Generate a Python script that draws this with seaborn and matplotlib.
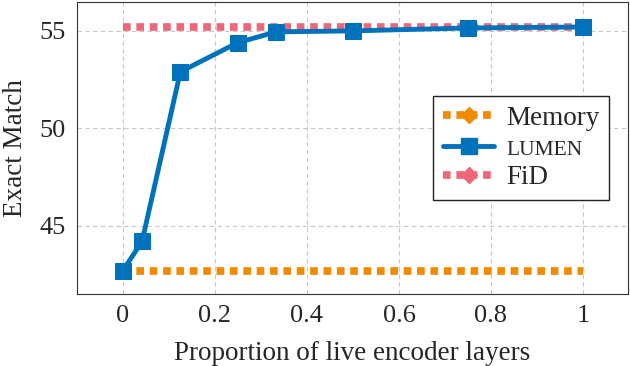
import numpy as np
import pandas as pd
import matplotlib
matplotlib.use("Agg")
import matplotlib.pyplot as plt
from matplotlib.lines import Line2D
import seaborn as sns

# data
proportion = [0, 1/24, 1/8, 1/4, 1/3, 1/2, 3/4, 1]
lumen_em = [42.7, 44.2, 52.9, 54.4, 54.95, 55.0, 55.15, 55.2]
memory_em = [42.7] * len(proportion)
fid_em = [55.2] * len(proportion)

xticks = [0, 0.2, 0.4, 0.6, 0.8, 1]
xtick_labels = ["0", "0.2", "0.4", "0.6", "0.8", "1"]
yticks = [45, 50, 55]

c_orange = "#F28A00"
c_blue = "#0072BC"
c_pink = "#EE6677"

sns.set_style("whitegrid", {"grid.linestyle": (0, (4, 3)), "grid.color": "#c8c8c8",
                            "axes.edgecolor": "#333333"})
plt.rcParams["font.family"] = ["Liberation Serif", "DejaVu Serif"]

df = pd.DataFrame({"x": proportion, "lumen": lumen_em, "memory": memory_em, "fid": fid_em})

fig, ax = plt.subplots(figsize=(6.3, 3.66), dpi=100)

sns.lineplot(data=df, x="x", y="memory", ax=ax, color=c_orange, linewidth=5.5,
             dashes=False, zorder=2)
ax.lines[-1].set_dashes((1, 0.75))
ax.lines[-1].set_dash_capstyle("butt")
sns.lineplot(data=df, x="x", y="fid", ax=ax, color=c_pink, linewidth=5.5,
             dashes=False, zorder=2)
ax.lines[-1].set_dashes((1, 0.75))
ax.lines[-1].set_dash_capstyle("butt")
sns.lineplot(data=df, x="x", y="lumen", ax=ax, color=c_blue, linewidth=3.5,
             marker="s", markersize=11, markeredgecolor=c_blue, zorder=3)

ax.set_xlim(-0.1, 1.098)
ax.set_ylim(41.51, 56.49)
ax.set_xticks(xticks)
ax.set_xticklabels(xtick_labels)
ax.set_yticks(yticks)
ax.tick_params(labelsize=19, direction="in", length=4, color="#333333", pad=8)
ax.set_xlabel("Proportion of live encoder layers", fontsize=19.5, labelpad=10)
ax.set_ylabel("Exact Match", fontsize=19.5, labelpad=8)

handles = [
    Line2D([], [], color=c_orange, linewidth=5.5, dashes=(1, 0.75), marker="D",
           markersize=8, dash_capstyle="butt"),
    Line2D([], [], color=c_blue, linewidth=3.5, marker="s", markersize=11),
    Line2D([], [], color=c_pink, linewidth=5.5, dashes=(1, 0.75), marker="D",
           markersize=8, dash_capstyle="butt"),
]
leg = ax.legend(handles, ["Memory", "LUMEN", "FiD"], loc="upper right",
                bbox_to_anchor=(0.966, 0.677), fontsize=19.5, frameon=True,
                fancybox=False, edgecolor="#222222", framealpha=1,
                handlelength=1.9, handletextpad=0.45, borderpad=0.35,
                labelspacing=0.2, borderaxespad=0)
leg.get_frame().set_linewidth(1.0)
leg.get_texts()[1].set_fontsize(15.5)

fig.subplots_adjust(left=0.122, right=0.997, top=0.995, bottom=0.197)
fig.savefig("out.png", dpi=100)
